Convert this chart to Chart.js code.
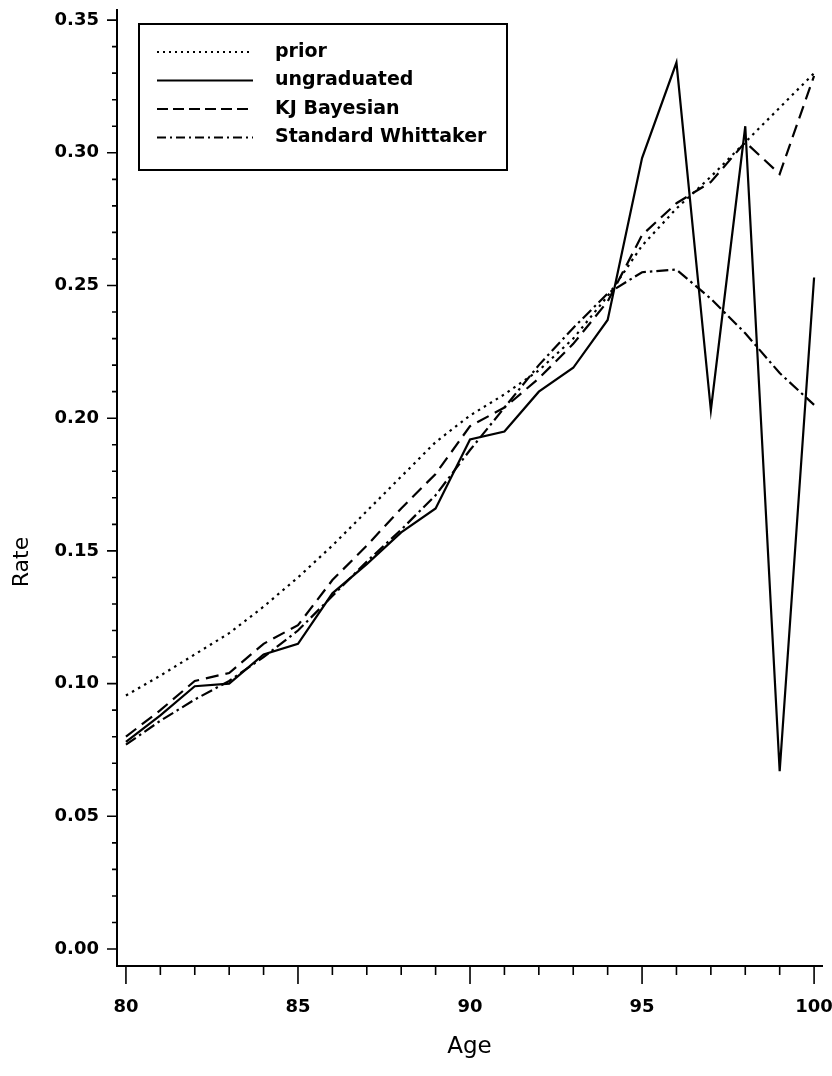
<!DOCTYPE html>
<html>
<head>
<meta charset="utf-8">
<title>Rate by Age</title>
<script src="https://cdn.jsdelivr.net/npm/chart.js@4.4.0/dist/chart.umd.min.js"></script>
<style>
  body { margin: 0; background: #fff; }
  #wrap { width: 832px; height: 1076px; }
</style>
</head>
<body>
<div id="wrap"><canvas id="rateChart"></canvas></div>
<script>
// Ages (x axis)
const ages = [80, 81, 82, 83, 84, 85, 86, 87, 88, 89, 90, 91, 92, 93, 94, 95, 96, 97, 98, 99, 100];

// Rates
const priorRates = [0.0955, 0.103, 0.111, 0.119, 0.129, 0.140, 0.152, 0.165, 0.178, 0.191, 0.201,
    0.209, 0.218, 0.230, 0.246, 0.265, 0.279, 0.291, 0.304, 0.317, 0.330];
const ungraduatedRates = [0.078, 0.088, 0.099, 0.100, 0.111, 0.115, 0.134, 0.145, 0.157, 0.166, 0.192,
    0.195, 0.210, 0.219, 0.237, 0.298, 0.334, 0.203, 0.310, 0.067, 0.253];
const kjBayesianRates = [0.080, 0.090, 0.101, 0.104, 0.115, 0.122, 0.139, 0.152, 0.166, 0.179, 0.197,
    0.204, 0.215, 0.228, 0.244, 0.269, 0.281, 0.289, 0.304, 0.292, 0.329];
const whittakerRates = [0.077, 0.086, 0.094, 0.101, 0.110, 0.120, 0.133, 0.146, 0.158, 0.171, 0.188,
    0.204, 0.220, 0.234, 0.247, 0.255, 0.256, 0.245, 0.232, 0.217, 0.205];

const seriesNames = ['prior', 'ungraduated', 'KJ Bayesian', 'Standard Whittaker'];

// Tick labels
const xTickValues = [80, 85, 90, 95, 100];
const yTickValues = [0, 0.05, 0.10, 0.15, 0.20, 0.25, 0.30, 0.35];

const tickFont = { family: '"DejaVu Sans", sans-serif', size: 18, weight: 'bold' };

function toPoints(rates) {
    return ages.map(function (age, i) { return { x: age, y: rates[i] }; });
}

// Draw the small and big tick marks on both axes, plus the y title
const tickMarks = {
    id: 'tickMarks',
    afterDraw: function (chart) {
        const ctx = chart.ctx;
        const xs = chart.scales.x;
        const ys = chart.scales.y;
        ctx.save();
        ctx.strokeStyle = '#000';
        ctx.lineWidth = 1.6;
        ctx.beginPath();
        for (let a = 80; a <= 100; a++) {
            const px = xs.getPixelForValue(a);
            const len = a % 5 === 0 ? 18 : 9;
            ctx.moveTo(px, xs.top);
            ctx.lineTo(px, xs.top + len);
        }
        for (let k = 0; k <= 35; k++) {
            const py = ys.getPixelForValue(k / 100);
            const len = k % 5 === 0 ? 10 : 5;
            ctx.moveTo(ys.right, py);
            ctx.lineTo(ys.right - len, py);
        }
        ctx.stroke();

        // "Rate" sits a little below the middle of the axis in the original
        ctx.translate(22, 562);
        ctx.rotate(-Math.PI / 2);
        ctx.font = '22px "DejaVu Sans", sans-serif';
        ctx.fillStyle = '#000';
        ctx.textAlign = 'center';
        ctx.textBaseline = 'middle';
        ctx.fillText('Rate', 0, 0);
        ctx.restore();
    }
};

// Legend in a box, inside the plot area
const boxLegend = {
    id: 'boxLegend',
    afterDraw: function (chart) {
        const ctx = chart.ctx;
        const left = chart.chartArea.left + 22;
        const top = chart.chartArea.top + 14;
        ctx.save();
        ctx.fillStyle = '#fff';
        ctx.fillRect(left, top, 368, 146);
        ctx.strokeStyle = '#000';
        ctx.lineWidth = 2;
        ctx.strokeRect(left, top, 368, 146);
        ctx.font = 'bold 19px "DejaVu Sans", sans-serif';
        ctx.textBaseline = 'middle';
        ctx.fillStyle = '#000';
        chart.data.datasets.forEach(function (ds, i) {
            const y = top + 28 + i * 28.5;
            ctx.setLineDash(ds.legendDash || []);
            ctx.lineWidth = ds.borderWidth;
            ctx.beginPath();
            ctx.moveTo(left + 18, y);
            ctx.lineTo(left + 114, y);
            ctx.stroke();
            ctx.setLineDash([]);
            ctx.fillText(ds.label, left + 136, y);
        });
        ctx.restore();
    }
};

const ctx = document.getElementById('rateChart').getContext('2d');

new Chart(ctx, {
    type: 'line',
    data: {
        datasets: [
            { label: seriesNames[0], data: toPoints(priorRates), borderDash: [2.5, 4.5], legendDash: [2, 4], borderWidth: 2.2 },
            { label: seriesNames[1], data: toPoints(ungraduatedRates), borderDash: [], legendDash: [], borderWidth: 2.2 },
            { label: seriesNames[2], data: toPoints(kjBayesianRates), borderDash: [13, 7], legendDash: [11, 5], borderWidth: 2.2 },
            { label: seriesNames[3], data: toPoints(whittakerRates), borderDash: [12, 4, 2.5, 4], legendDash: [9, 4, 2, 4], borderWidth: 2.2 }
        ]
    },
    options: {
        responsive: true,
        maintainAspectRatio: false,
        animation: false,
        layout: { padding: { top: 10, right: 10, left: 0, bottom: 0 } },
        elements: {
            line: { borderColor: '#000', tension: 0, fill: false },
            point: { radius: 0 }
        },
        plugins: {
            legend: { display: false },
            tooltip: { enabled: false }
        },
        scales: {
            x: {
                type: 'linear',
                min: 79.74,
                max: 100.23,
                afterFit: function (scale) {
                    scale.height = 110;
                    scale.paddingLeft = 0;
                    scale.paddingRight = 0;
                },
                afterBuildTicks: function (scale) {
                    scale.ticks = xTickValues.map(function (v) { return { value: v }; });
                },
                grid: { drawOnChartArea: false, drawTicks: true, tickLength: 18, tickColor: 'transparent' },
                border: { display: true, color: '#000', width: 2 },
                ticks: {
                    color: '#000',
                    font: tickFont,
                    padding: 13,
                    maxRotation: 0,
                    autoSkip: false,
                    callback: function (value) { return String(value); }
                },
                title: {
                    display: true,
                    text: 'Age',
                    color: '#000',
                    font: { family: '"DejaVu Sans", sans-serif', size: 23 },
                    padding: { top: 0, bottom: 15 }
                }
            },
            y: {
                type: 'linear',
                min: -0.0064,
                max: 0.3538,
                afterFit: function (scale) {
                    scale.width = 117;
                    scale.paddingTop = 0;
                    scale.paddingBottom = 0;
                },
                afterBuildTicks: function (scale) {
                    scale.ticks = yTickValues.map(function (v) { return { value: v }; });
                },
                grid: { drawOnChartArea: false, drawTicks: true, tickLength: 10, tickColor: 'transparent' },
                border: { display: true, color: '#000', width: 2 },
                ticks: {
                    color: '#000',
                    font: tickFont,
                    padding: 8,
                    autoSkip: false,
                    callback: function (value) { return Number(value).toFixed(2); }
                },
                title: { display: false }
            }
        }
    },
    plugins: [tickMarks, boxLegend]
});
</script>
</body>
</html>
